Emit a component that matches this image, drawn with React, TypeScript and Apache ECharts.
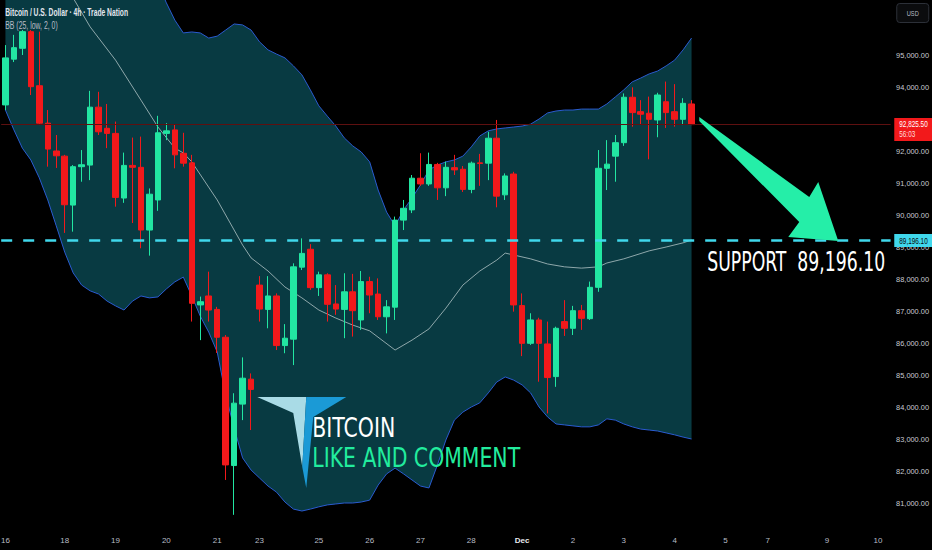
import React, { useEffect, useRef } from "react";
import * as echarts from "echarts";

// ---- data ----
const opens = [93440, 94870, 95210, 95730, 94040, 92870, 92000, 91840, 90310, 91510, 91560, 93370, 92710, 92550, 90530, 91550, 91490, 89530, 90470, 92550, 92660, 91930, 91630, 87190, 87470, 87050, 86180, 82170, 84090, 84870, 87810, 87050, 87470, 85920, 86120, 88370, 88930, 87730, 88130, 87220, 87050, 87600, 86720, 87920, 87530, 86820, 87120, 89840, 90160, 91150, 90970, 91580, 90850, 91480, 91430, 90800, 91630, 91620, 92400, 90630, 91280, 87170, 85990, 86720, 85970, 84950, 86670, 86460, 87010, 86760, 87740, 91460, 91840, 92260, 93680, 93230, 93180, 92970, 93540, 93230, 92990, 93470];
const closes = [94910, 95230, 95730, 94010, 92870, 92060, 91850, 90320, 91510, 91570, 93370, 92600, 92550, 90550, 91550, 91490, 89530, 90650, 92570, 92630, 91880, 91620, 87240, 87290, 87030, 86180, 82190, 84120, 84900, 84550, 87060, 87470, 85920, 86150, 88380, 88800, 87730, 88130, 87210, 87060, 87600, 87010, 87920, 87500, 86820, 87130, 89840, 90210, 91150, 90970, 91580, 90850, 91490, 91410, 90800, 91620, 91610, 92400, 90590, 91220, 87190, 85990, 86720, 85990, 84920, 86460, 86460, 87010, 86770, 87740, 91460, 91590, 92260, 93680, 93200, 93150, 92990, 93750, 93200, 92990, 93490, 92825.5];
const lows = [93280, 94780, 95000, 93750, 92810, 91510, 91470, 89440, 89480, 91040, 91090, 92500, 92090, 90260, 90380, 89750, 88960, 88730, 90130, 92340, 91460, 91510, 86670, 86090, 86670, 85690, 81720, 80630, 83590, 83280, 86670, 86460, 85780, 85680, 85310, 88280, 87660, 87470, 86670, 86880, 86150, 86200, 86410, 86930, 86720, 86300, 86720, 89530, 90060, 90910, 90910, 90470, 90590, 91250, 90720, 90680, 90910, 91090, 90240, 90470, 86980, 85590, 85940, 84790, 83800, 84630, 86220, 86250, 86410, 86720, 87600, 90780, 91040, 92160, 92760, 92810, 91740, 92430, 92720, 92760, 92810, 92810];
const highs = [95310, 95630, 95780, 95780, 95730, 93280, 92500, 91880, 91560, 92030, 93880, 93850, 93470, 92920, 91950, 92420, 92450, 90830, 93100, 92870, 92840, 92570, 91880, 87450, 88230, 87130, 86250, 84430, 85550, 85050, 88090, 88090, 87550, 86590, 88490, 89270, 89090, 88230, 88180, 87810, 88180, 88160, 88250, 88070, 88020, 87340, 89950, 90470, 91250, 91930, 91950, 91630, 91670, 91880, 91530, 91670, 91910, 92600, 92970, 91300, 91350, 87550, 86930, 86790, 86670, 86510, 87340, 87160, 87190, 87920, 92030, 92340, 92500, 93800, 93990, 93590, 93700, 93820, 94170, 94090, 93650, 93590];

const upperIdx = [0, 6, 12, 16, 18, 19, 20, 21, 22, 23, 24, 25, 26, 27, 28, 29, 30, 31, 32, 33, 34, 35, 36, 37, 38, 39, 40, 41, 42, 43, 44, 45, 46, 47, 48, 49, 50, 51, 52, 53, 54, 55, 56, 57, 58, 59, 60, 61, 62, 63, 64, 65, 66, 67, 68, 69, 70, 71, 72, 73, 74, 75, 76, 77, 78, 79, 80, 81];
const upperVals = [101400, 103500, 102720, 99720, 97250, 96630, 96090, 95690, 95720, 95690, 95530, 95590, 95780, 95970, 95940, 95780, 95410, 95160, 95030, 94910, 94660, 94380, 93910, 93410, 93090, 92780, 92410, 92160, 91970, 91660, 90780, 90090, 89660, 90160, 90530, 90940, 91410, 91560, 91660, 91720, 91840, 92130, 92470, 92630, 92690, 92720, 92750, 92780, 92840, 93000, 93190, 93250, 93280, 93280, 93310, 93310, 93310, 93470, 93690, 93910, 94160, 94280, 94410, 94500, 94660, 94840, 95160, 95530];

const lowerIdx = [0, 1, 2, 3, 4, 5, 6, 7, 8, 9, 10, 11, 12, 13, 14, 15, 16, 17, 18, 19, 20, 21, 22, 23, 24, 25, 26, 27, 28, 29, 30, 31, 32, 33, 34, 35, 36, 37, 38, 39, 40, 41, 42, 43, 44, 45, 46, 47, 48, 49, 50, 51, 52, 53, 54, 55, 56, 57, 58, 59, 60, 61, 62, 63, 64, 65, 66, 67, 68, 69, 70, 71, 72, 73, 74, 75, 76, 77, 78, 79, 80, 81];
const lowerVals = [93280, 92660, 92090, 91720, 91160, 90470, 89660, 88840, 88190, 87810, 87630, 87530, 87310, 87160, 87030, 87310, 87470, 87410, 87440, 87690, 87910, 88060, 87470, 86840, 86340, 85720, 84380, 83340, 82410, 82030, 81780, 81530, 81340, 81030, 80810, 80750, 80810, 80880, 80940, 80970, 81000, 81000, 81030, 81090, 81560, 81910, 82090, 81910, 81720, 81530, 81470, 82190, 82970, 83590, 83840, 84000, 84130, 84440, 84780, 84940, 84840, 84690, 84440, 84000, 83690, 83470, 83440, 83410, 83380, 83380, 83440, 83630, 83590, 83470, 83380, 83310, 83280, 83250, 83190, 83130, 83060, 83000];

const basisIdx = [0, 4, 8, 10, 13, 16, 18, 20, 21, 22, 25, 28, 29, 31, 33, 35, 37, 39, 41, 43, 46, 48, 50, 52, 54, 56, 58, 59, 60, 62, 64, 66, 68, 70, 71, 73, 76, 78, 80, 81];
const basisVals = [98590, 97660, 96780, 95880, 94840, 93590, 92750, 92090, 91940, 91660, 90470, 89060, 88660, 88250, 87750, 87410, 87030, 86780, 86560, 86380, 85780, 86090, 86440, 87090, 87810, 88250, 88590, 88810, 88750, 88630, 88470, 88380, 88340, 88380, 88500, 88630, 88880, 89000, 89130, 89220];

const slotCount = 105;
const dayIdx = [0, 7, 13, 19, 25, 30, 37, 43, 49, 55, 61, 67, 73, 79, 85, 90, 97, 103];
const dayText = ["16", "18", "19", "20", "21", "23", "25", "26", "27", "28", "Dec", "2", "3", "4", "5", "7", "9", "10"];

const supportLevel = 89196.1;
const lastPrice = 92825.5;
const countdown = "56:03";

const SANS = "'Liberation Sans', Arial, sans-serif";
const COND = "'DejaVu Sans Condensed', 'DejaVu Sans', sans-serif";
const GREEN = "#22e6a2";
const RED = "#f2191b";
const OX = 2.26; // chart div sits this far left of the page edge

const fmt = (v: number) =>
  v.toLocaleString("en-US", { minimumFractionDigits: 2, maximumFractionDigits: 2 });

let measureCtx: CanvasRenderingContext2D | null = null;
const fit = (text: string, font: string, width: number) => {
  if (!measureCtx) measureCtx = document.createElement("canvas").getContext("2d");
  if (!measureCtx) return 1;
  measureCtx.font = font;
  const w = measureCtx.measureText(text).width;
  return w > 0 ? width / w : 1;
};

const fitText = (text: string, x: number, y: number, font: string, width: number, fill: string) => ({
  type: "text",
  z: 100,
  x: x + OX,
  y,
  scaleX: fit(text, font, width),
  style: { text, fill, font, verticalAlign: "middle", align: "left" },
});

export default function App() {
  const ref = useRef<HTMLDivElement>(null);

  useEffect(() => {
    if (!ref.current) return;
    const chart = echarts.init(ref.current, undefined, { renderer: "svg" });

    const candleData = opens.map((o, i) => [o, closes[i], lows[i], highs[i]]);
    const slots = Array.from({ length: slotCount }, (_, i) => String(i));

    const option: any = {
      animation: false,
      backgroundColor: "#000000",
      grid: { left: 0, right: 39.7, top: 0, bottom: 15 },
      xAxis: {
        type: "category",
        data: slots,
        boundaryGap: true,
        axisLine: { show: false },
        axisTick: { show: false },
        splitLine: { show: false },
        axisLabel: {
          interval: 0,
          margin: 1,
          color: "#b8bcc6",
          fontSize: 8,
          fontFamily: SANS,
          formatter: (_v: string, idx: number) => {
            const k = dayIdx.indexOf(idx);
            if (k < 0) return "";
            return dayText[k] === "Dec" ? "{b|Dec}" : dayText[k];
          },
          rich: { b: { fontWeight: "bold", color: "#e6e8ee", fontSize: 8, fontFamily: SANS } },
        },
      },
      yAxis: {
        type: "value",
        position: "right",
        min: 80000,
        max: 96719,
        interval: 1000,
        axisLine: { show: false },
        axisTick: { show: false },
        splitLine: { show: false },
        axisLabel: {
          margin: 5.5,
          align: "left",
          color: "#c8cbd3",
          fontSize: 7.4,
          fontFamily: SANS,
          formatter: (v: number) => (v >= 81000 && v <= 95000 && v !== 93000 ? fmt(v) : ""),
        },
      },
      series: [
        {
          type: "custom",
          data: [[0, 90000]],
          z: 1,
          silent: true,
          renderItem: (_p: any, api: any) => {
            const top = upperIdx.map((x, k) => api.coord([x, upperVals[k]]));
            const bot = lowerIdx.map((x, k) => api.coord([x, lowerVals[k]])).reverse();
            return {
              type: "polygon",
              shape: { points: top.concat(bot) },
              style: { fill: "#083a42" },
            };
          },
        },
        {
          type: "line",
          data: upperIdx.map((x, k) => [x, upperVals[k]]),
          showSymbol: false,
          z: 2,
          lineStyle: { color: "#2a5bd0", width: 1 },
        },
        {
          type: "line",
          data: lowerIdx.map((x, k) => [x, lowerVals[k]]),
          showSymbol: false,
          z: 2,
          lineStyle: { color: "#2a5bd0", width: 1 },
        },
        {
          type: "line",
          data: basisIdx.map((x, k) => [x, basisVals[k]]),
          showSymbol: false,
          z: 2,
          lineStyle: { color: "#a6bbbd", width: 1, opacity: 0.85 },
        },
        {
          type: "candlestick",
          data: candleData,
          barWidth: 6,
          z: 3,
          itemStyle: { color: GREEN, color0: RED, borderColor: GREEN, borderColor0: RED, borderWidth: 1 },
          markLine: {
            silent: true,
            symbol: ["none", "none"],
            label: { show: false },
            data: [
              { yAxis: lastPrice, lineStyle: { color: "#5e1010", width: 1, type: "solid" } },
              { yAxis: supportLevel, lineStyle: { color: "#40d8ec", width: 2.5, type: [11, 11] } },
            ],
          },
        },
      ],
    };
    chart.setOption(option);

    const yS = chart.convertToPixel({ yAxisIndex: 0 }, supportLevel) as number;
    const yP = chart.convertToPixel({ yAxisIndex: 0 }, lastPrice) as number;

    chart.setOption({
      graphic: [
        // header
        fitText("Bitcoin / U.S. Dollar · 4h · Trade Nation", 5, 12.5, `bold 10.5px ${SANS}`, 123, "#e3e6ee"),
        fitText("BB (25, low, 2, 0)", 5, 25.7, `10px ${SANS}`, 52.5, "#b9bcc5"),
        // USD button
        { type: "rect", z: 100, shape: { x: 896.5 + OX, y: 3.5, width: 32, height: 19, r: 3 }, style: { fill: "#0b0c0e", stroke: "#2c3038", lineWidth: 1 } },
        fitText("USD", 906.5, 13, `8px ${SANS}`, 12, "#b9bcc5"),
        // last price label
        { type: "rect", z: 100, shape: { x: 894 + OX, y: yP - 6.6, width: 38, height: 23 }, style: { fill: RED } },
        fitText(fmt(lastPrice), 899, yP - 0.5, `8.5px ${SANS}`, 28.5, "#ffffff"),
        fitText(countdown, 899, yP + 10, `8.5px ${SANS}`, 16, "#ffd9d9"),
        // support label
        { type: "rect", z: 100, shape: { x: 894 + OX, y: yS - 6.7, width: 38, height: 13 }, style: { fill: "#40d8ec" } },
        fitText(fmt(supportLevel), 899, yS, `8.5px ${SANS}`, 28.5, "#0a0a0a"),
        // support text
        fitText("SUPPORT  " + fmt(supportLevel), 707, yS + 21.5, `27px ${COND}`, 178, "#ffffff"),
        // arrow
        {
          type: "polygon",
          z: 100,
          shape: { points: [[699, 117], [809, 197], [818, 182], [838, 241], [788, 237], [799, 222], [699, 121]].map(([x, y]) => [x + OX, y]) },
          style: { fill: "#25eea8" },
        },
        // logo
        { type: "polygon", z: 100, shape: { points: [[257, 397], [306, 397], [302, 467], [293, 413]].map(([x, y]) => [x + OX, y]) }, style: { fill: "#a9dbe6" } },
        { type: "polygon", z: 100, shape: { points: [[306, 397], [346, 397], [313, 417], [306, 488], [302, 467]].map(([x, y]) => [x + OX, y]) }, style: { fill: "#1b9ad6" } },
        fitText("BITCOIN", 312, 428, `27px ${COND}`, 83, "#ffffff"),
        fitText("LIKE AND COMMENT", 312, 458, `27px ${COND}`, 208, "#22ec9e"),
      ],
    });

    return () => chart.dispose();
  }, []);

  return (
    <div
      ref={ref}
      style={{ position: "absolute", left: -OX, top: 0, width: 932 + OX, height: 550, background: "#000" }}
    />
  );
}
